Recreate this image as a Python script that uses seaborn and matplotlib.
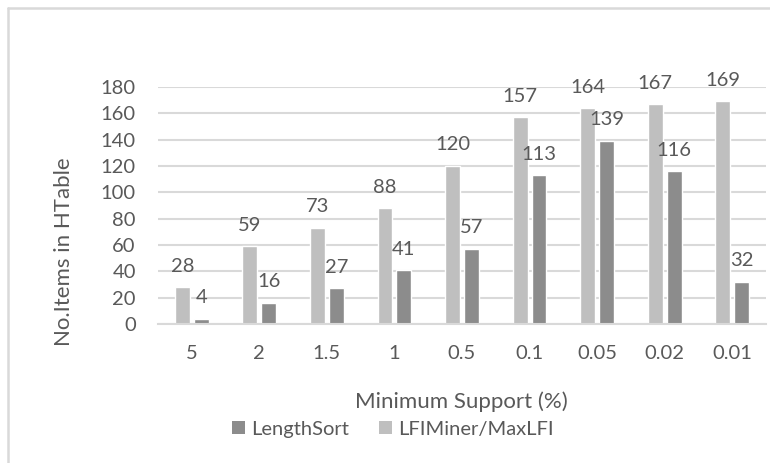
import matplotlib
matplotlib.use("Agg")
import matplotlib.pyplot as plt
from matplotlib.lines import Line2D
from matplotlib.patches import Patch
import seaborn as sns
import pandas as pd

# Minimum support thresholds (%) and HTable item counts per algorithm
supports = ["5", "2", "1.5", "1", "0.5", "0.1", "0.05", "0.02", "0.01"]
lfiminer = [28, 59, 73, 88, 120, 157, 164, 167, 169]
lengthsort = [4, 16, 27, 41, 57, 113, 139, 116, 32]
series_names = ["LFIMiner/MaxLFI", "LengthSort"]
yticks = [0, 20, 40, 60, 80, 100, 120, 140, 160, 180]

df = pd.DataFrame({
    "support": supports * 2,
    "items": lfiminer + lengthsort,
    "method": [series_names[0]] * len(supports) + [series_names[1]] * len(supports),
})

TEXT = "#595959"
LIGHT = "#BFBFBF"
DARK = "#8C8C8C"
GRID = "#D9D9D9"
FS = 14.5
TITLE_FS = 16

sns.set_theme(style="white")
plt.rcParams["font.family"] = ["Lato", "DejaVu Sans"]

W, H = 770, 463
fig = plt.figure(figsize=(W / 100, H / 100), dpi=100)
ax = fig.add_axes([158 / W, 1 - 324 / H, (766 - 158) / W, (324 - 87) / H])

sns.barplot(data=df, x="support", y="items", hue="method", order=supports,
            hue_order=series_names, palette=[LIGHT, DARK], width=0.56, gap=0.21,
            ax=ax, legend=False, saturation=1)

for cont in ax.containers:
    ax.bar_label(cont, padding=9, fontsize=FS, color=TEXT)

ax.set_ylim(0, 180)
ax.set_yticks(yticks)
ax.yaxis.grid(True, color=GRID, linewidth=1.5)
ax.set_axisbelow(True)
for side in ["top", "right", "left"]:
    ax.spines[side].set_visible(False)
ax.spines["bottom"].set_color(GRID)
ax.spines["bottom"].set_linewidth(1.5)
ax.tick_params(axis="both", length=0, labelsize=FS, labelcolor=TEXT)
ax.tick_params(axis="y", pad=16)
ax.tick_params(axis="x", pad=15)
ax.set_xlabel("")
ax.set_ylabel("")

# Axis titles
fig.text(355 / W, 1 - 408 / H, "Minimum Support (%)", ha="left", va="baseline",
         fontsize=TITLE_FS, color=TEXT)
fig.text(70 / W, 1 - 157 / H, "No.Items in HTable", rotation=90, rotation_mode="anchor",
         ha="right", va="baseline", fontsize=TITLE_FS, color=TEXT)

handles = [Patch(facecolor=DARK, edgecolor="none"), Patch(facecolor=LIGHT, edgecolor="none")]
fig.legend(handles, ["LengthSort", "LFIMiner/MaxLFI"], loc="center left",
           bbox_to_anchor=(232 / W, 1 - 429 / H), ncol=2, frameon=False,
           fontsize=FS, labelcolor=TEXT, handlelength=0.65, handleheight=0.65,
           handletextpad=0.3, columnspacing=1.5, borderpad=0, borderaxespad=0)

# Chart frame edges along the left and top
fig.add_artist(Line2D([8 / W, 8 / W], [0, 1 - 8 / H], transform=fig.transFigure,
                      color=GRID, linewidth=1.8))
fig.add_artist(Line2D([8 / W, 1], [1 - 8 / H, 1 - 8 / H], transform=fig.transFigure,
                      color=GRID, linewidth=1.8))

fig.savefig("out.png", dpi=100)
